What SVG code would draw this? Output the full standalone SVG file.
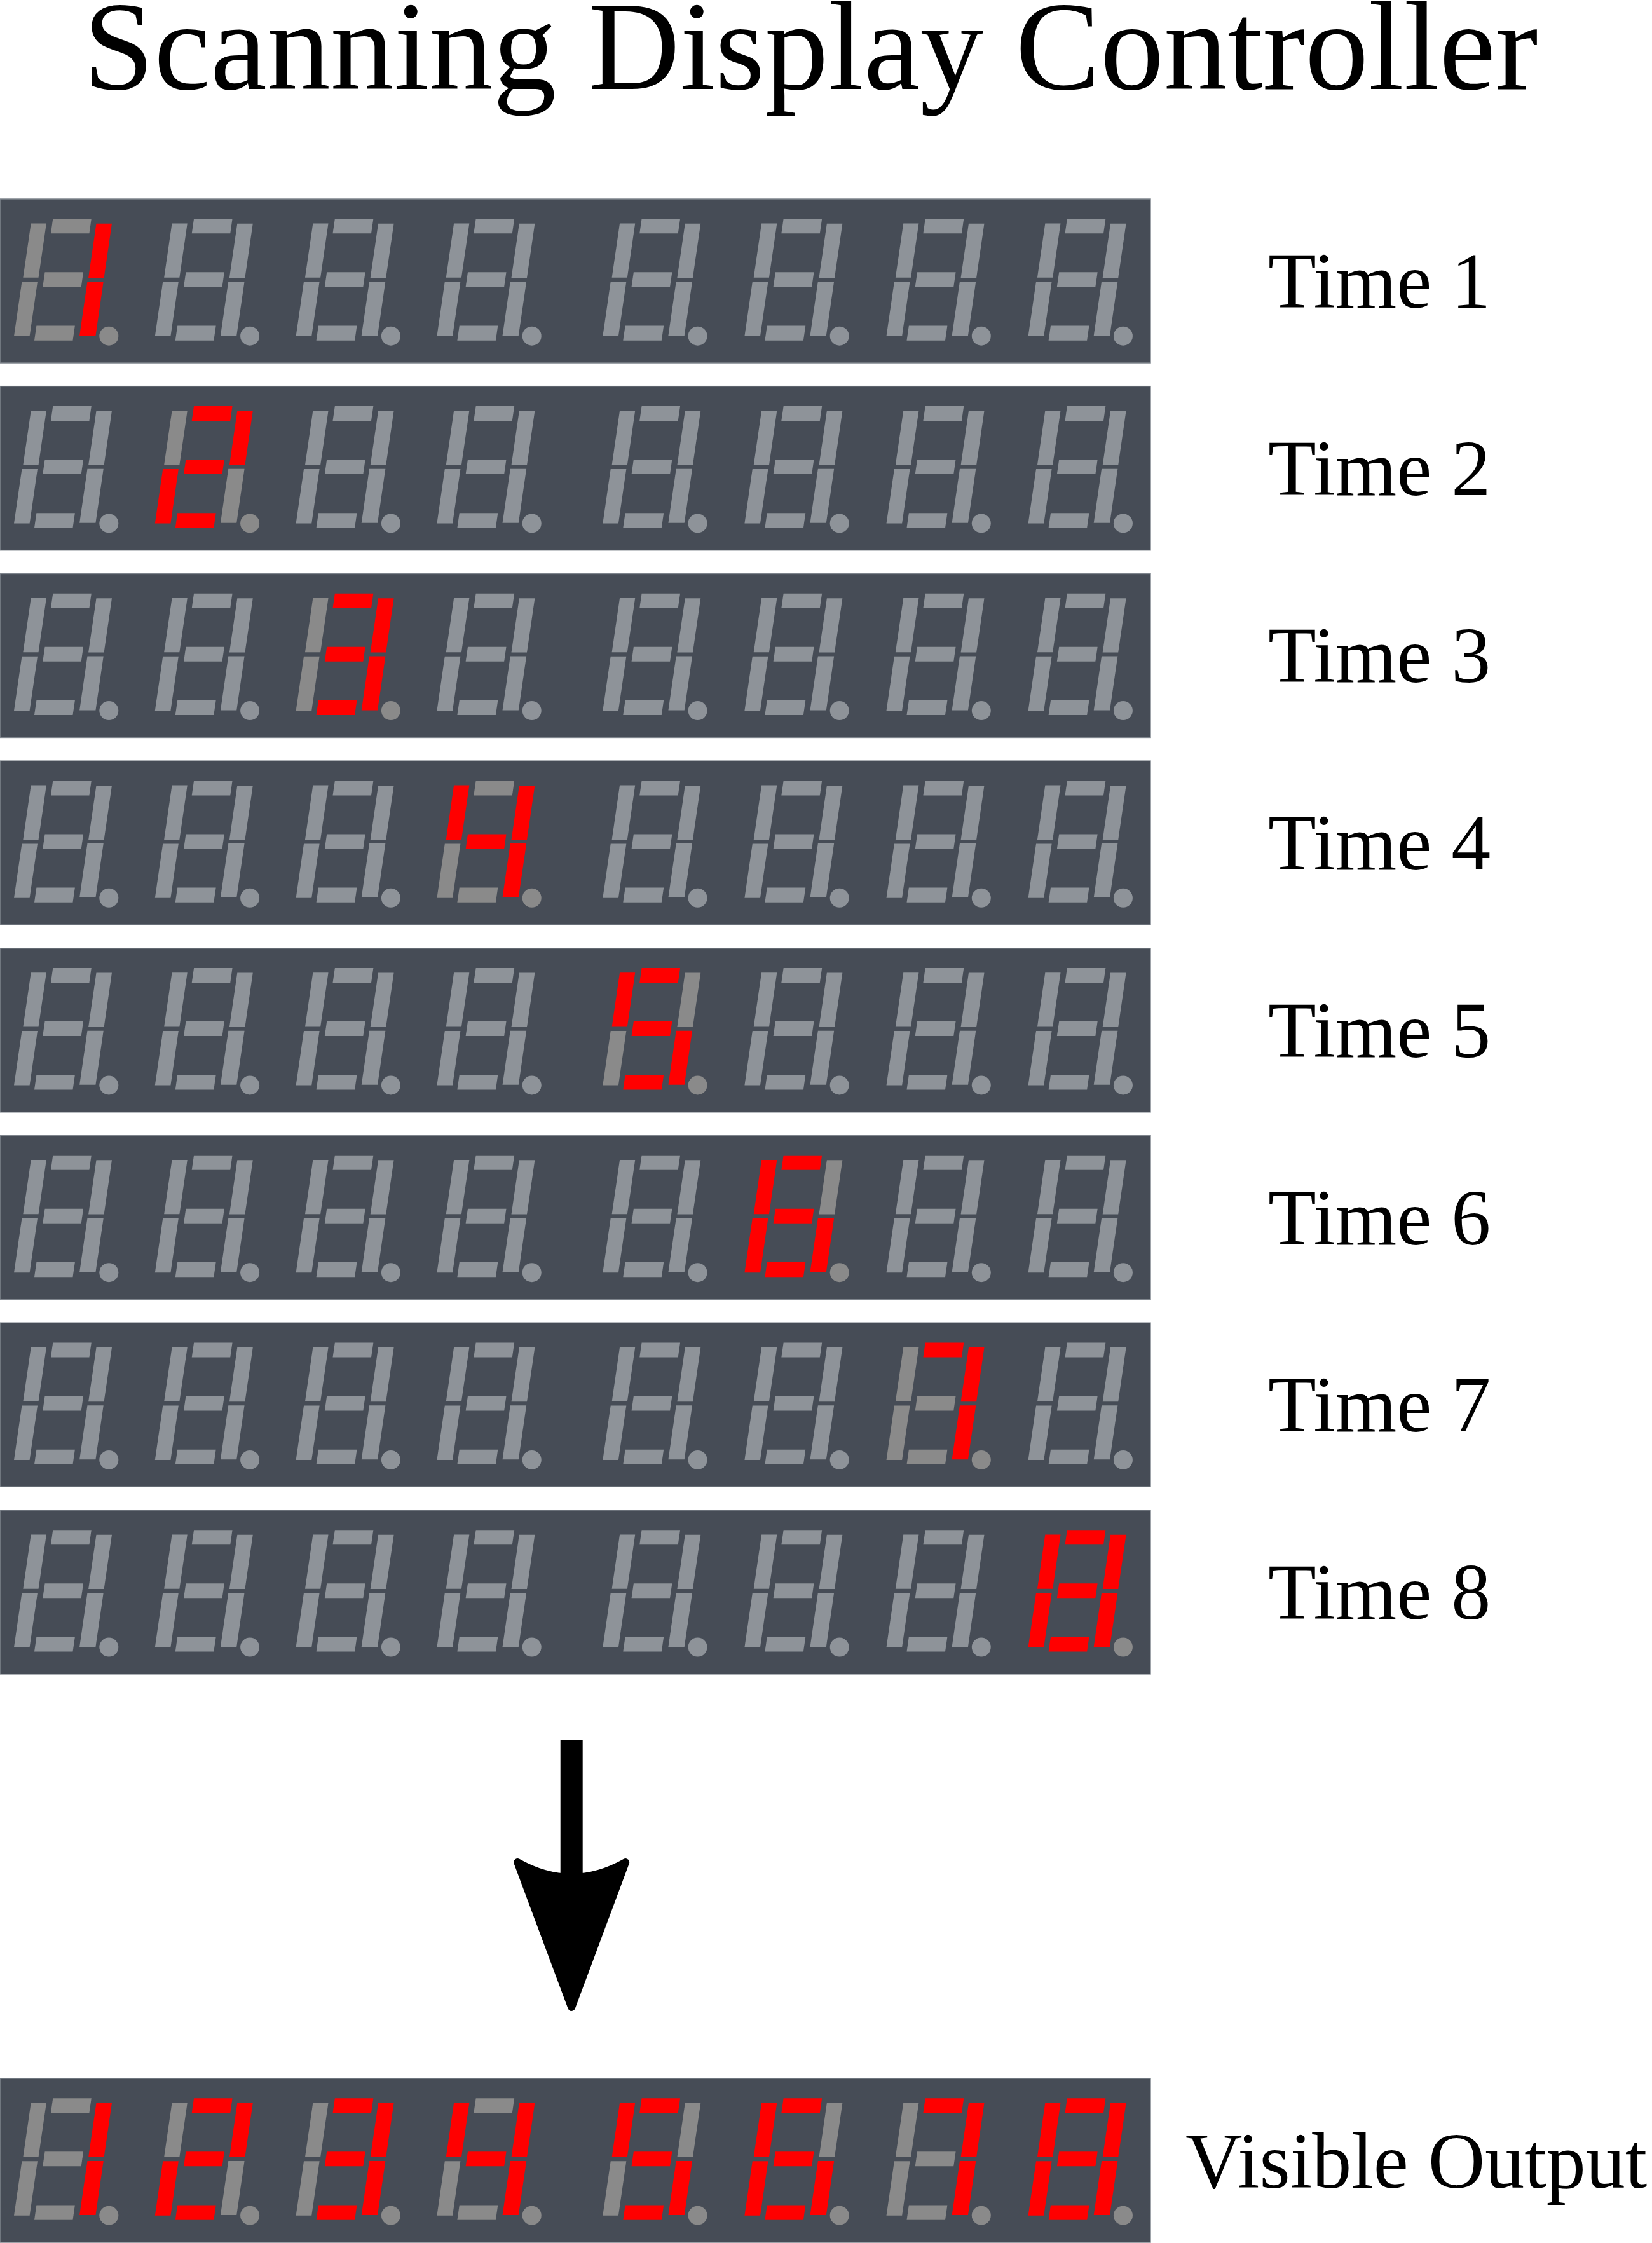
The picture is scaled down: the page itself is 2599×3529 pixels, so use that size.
<svg xmlns="http://www.w3.org/2000/svg" xmlns:xlink="http://www.w3.org/1999/xlink" width="2599" height="3529" viewBox="0 0 2599 3529">
<style>
.txt{font-family:"Liberation Serif","Times New Roman",serif;fill:#000}
.title{font-size:200px}
.lbl{font-size:124px}
.panel{fill:#464c56;stroke:#7f858d;stroke-width:1.5}
.r{fill:#ff0000}
.o{fill:#8a8a8a}
.i{fill:#8e9399}
</style>
<defs>
<rect id="sa" x="34.5" y="31.3" width="60.5" height="23"/>
<rect id="sf" x="1" y="38.5" width="24.2" height="85.3"/>
<rect id="sb" x="103.8" y="38.8" width="24.5" height="85.3"/>
<rect id="sg" x="34" y="115.3" width="60.5" height="23"/>
<rect id="se" x="0" y="130.3" width="24.6" height="85.4"/>
<rect id="sc" x="103" y="130" width="25.3" height="85"/>
<rect id="sd" x="33" y="199.5" width="60.5" height="23.2"/>
<circle id="sp" cx="149.3" cy="215.7" r="15"/>
<g id="d0"><g transform="translate(31.3 0) skewX(-8.25)"><use href="#sa" class="i"/><use href="#sf" class="i"/><use href="#sb" class="i"/><use href="#sg" class="i"/><use href="#se" class="i"/><use href="#sc" class="i"/><use href="#sd" class="i"/></g><use href="#sp" class="i"/></g>
<g id="d1"><g transform="translate(31.3 0) skewX(-8.25)"><use href="#sa" class="o"/><use href="#sf" class="o"/><use href="#sb" class="r"/><use href="#sg" class="o"/><use href="#se" class="o"/><use href="#sc" class="r"/><use href="#sd" class="o"/></g><use href="#sp" class="o"/></g>
<g id="d2"><g transform="translate(31.3 0) skewX(-8.25)"><use href="#sa" class="r"/><use href="#sf" class="o"/><use href="#sb" class="r"/><use href="#sg" class="r"/><use href="#se" class="r"/><use href="#sc" class="o"/><use href="#sd" class="r"/></g><use href="#sp" class="o"/></g>
<g id="d3"><g transform="translate(31.3 0) skewX(-8.25)"><use href="#sa" class="r"/><use href="#sf" class="o"/><use href="#sb" class="r"/><use href="#sg" class="r"/><use href="#se" class="o"/><use href="#sc" class="r"/><use href="#sd" class="r"/></g><use href="#sp" class="o"/></g>
<g id="d4"><g transform="translate(31.3 0) skewX(-8.25)"><use href="#sa" class="o"/><use href="#sf" class="r"/><use href="#sb" class="r"/><use href="#sg" class="r"/><use href="#se" class="o"/><use href="#sc" class="r"/><use href="#sd" class="o"/></g><use href="#sp" class="o"/></g>
<g id="d5"><g transform="translate(31.3 0) skewX(-8.25)"><use href="#sa" class="r"/><use href="#sf" class="r"/><use href="#sb" class="o"/><use href="#sg" class="r"/><use href="#se" class="o"/><use href="#sc" class="r"/><use href="#sd" class="r"/></g><use href="#sp" class="o"/></g>
<g id="d6"><g transform="translate(31.3 0) skewX(-8.25)"><use href="#sa" class="r"/><use href="#sf" class="r"/><use href="#sb" class="o"/><use href="#sg" class="r"/><use href="#se" class="r"/><use href="#sc" class="r"/><use href="#sd" class="r"/></g><use href="#sp" class="o"/></g>
<g id="d7"><g transform="translate(31.3 0) skewX(-8.25)"><use href="#sa" class="r"/><use href="#sf" class="o"/><use href="#sb" class="r"/><use href="#sg" class="o"/><use href="#se" class="o"/><use href="#sc" class="r"/><use href="#sd" class="o"/></g><use href="#sp" class="o"/></g>
<g id="d8"><g transform="translate(31.3 0) skewX(-8.25)"><use href="#sa" class="r"/><use href="#sf" class="r"/><use href="#sb" class="r"/><use href="#sg" class="r"/><use href="#se" class="r"/><use href="#sc" class="r"/><use href="#sd" class="r"/></g><use href="#sp" class="o"/></g>
<marker id="arrowhead" markerUnits="userSpaceOnUse" viewBox="-40 -100 260 200" markerWidth="260" markerHeight="200" refX="0" refY="0" orient="auto" overflow="visible">
<path d="M -20 -85 Q 28 0 -20 85 L 208 0 Z" fill="#000" stroke="#000" stroke-width="12" stroke-linejoin="round"/>
</marker>
</defs>
<rect x="0" y="0" width="2599" height="3529" fill="#fff"/>

<g id="title"><text class="txt title" x="131" y="140">Scanning Display Controller</text></g>

<g id="row1" transform="translate(0 313)">
<rect class="panel" x="0" y="0" width="1810" height="258"/>
<use href="#d1" x="22"/><use href="#d0" x="243.8"/><use href="#d0" x="465.6"/><use href="#d0" x="687.4"/><use href="#d0" x="948.3"/><use href="#d0" x="1171.4"/><use href="#d0" x="1394.5"/><use href="#d0" x="1617.6"/>
<text class="txt lbl" x="1995" y="171">Time 1</text>
</g>
<g id="row2" transform="translate(0 607.7)">
<rect class="panel" x="0" y="0" width="1810" height="258"/>
<use href="#d0" x="22"/><use href="#d2" x="243.8"/><use href="#d0" x="465.6"/><use href="#d0" x="687.4"/><use href="#d0" x="948.3"/><use href="#d0" x="1171.4"/><use href="#d0" x="1394.5"/><use href="#d0" x="1617.6"/>
<text class="txt lbl" x="1995" y="171">Time 2</text>
</g>
<g id="row3" transform="translate(0 902.4)">
<rect class="panel" x="0" y="0" width="1810" height="258"/>
<use href="#d0" x="22"/><use href="#d0" x="243.8"/><use href="#d3" x="465.6"/><use href="#d0" x="687.4"/><use href="#d0" x="948.3"/><use href="#d0" x="1171.4"/><use href="#d0" x="1394.5"/><use href="#d0" x="1617.6"/>
<text class="txt lbl" x="1995" y="171">Time 3</text>
</g>
<g id="row4" transform="translate(0 1197.1)">
<rect class="panel" x="0" y="0" width="1810" height="258"/>
<use href="#d0" x="22"/><use href="#d0" x="243.8"/><use href="#d0" x="465.6"/><use href="#d4" x="687.4"/><use href="#d0" x="948.3"/><use href="#d0" x="1171.4"/><use href="#d0" x="1394.5"/><use href="#d0" x="1617.6"/>
<text class="txt lbl" x="1995" y="171">Time 4</text>
</g>
<g id="row5" transform="translate(0 1491.8)">
<rect class="panel" x="0" y="0" width="1810" height="258"/>
<use href="#d0" x="22"/><use href="#d0" x="243.8"/><use href="#d0" x="465.6"/><use href="#d0" x="687.4"/><use href="#d5" x="948.3"/><use href="#d0" x="1171.4"/><use href="#d0" x="1394.5"/><use href="#d0" x="1617.6"/>
<text class="txt lbl" x="1995" y="171">Time 5</text>
</g>
<g id="row6" transform="translate(0 1786.5)">
<rect class="panel" x="0" y="0" width="1810" height="258"/>
<use href="#d0" x="22"/><use href="#d0" x="243.8"/><use href="#d0" x="465.6"/><use href="#d0" x="687.4"/><use href="#d0" x="948.3"/><use href="#d6" x="1171.4"/><use href="#d0" x="1394.5"/><use href="#d0" x="1617.6"/>
<text class="txt lbl" x="1995" y="171">Time 6</text>
</g>
<g id="row7" transform="translate(0 2081.2)">
<rect class="panel" x="0" y="0" width="1810" height="258"/>
<use href="#d0" x="22"/><use href="#d0" x="243.8"/><use href="#d0" x="465.6"/><use href="#d0" x="687.4"/><use href="#d0" x="948.3"/><use href="#d0" x="1171.4"/><use href="#d7" x="1394.5"/><use href="#d0" x="1617.6"/>
<text class="txt lbl" x="1995" y="171">Time 7</text>
</g>
<g id="row8" transform="translate(0 2375.9)">
<rect class="panel" x="0" y="0" width="1810" height="258"/>
<use href="#d0" x="22"/><use href="#d0" x="243.8"/><use href="#d0" x="465.6"/><use href="#d0" x="687.4"/><use href="#d0" x="948.3"/><use href="#d0" x="1171.4"/><use href="#d0" x="1394.5"/><use href="#d8" x="1617.6"/>
<text class="txt lbl" x="1995" y="171">Time 8</text>
</g>

<g id="connectors">
<line x1="899.2" y1="2738" x2="899.2" y2="2950" stroke="#000" stroke-width="35" marker-end="url(#arrowhead)"/>
</g>

<g id="output" transform="translate(0 3270)">
<rect class="panel" x="0" y="0" width="1810" height="258"/>
<use href="#d1" x="22"/><use href="#d2" x="243.8"/><use href="#d3" x="465.6"/><use href="#d4" x="687.4"/><use href="#d5" x="948.3"/><use href="#d6" x="1171.4"/><use href="#d7" x="1394.5"/><use href="#d8" x="1617.6"/>
<text class="txt lbl" x="1865" y="172">Visible Output</text>
</g>
</svg>
